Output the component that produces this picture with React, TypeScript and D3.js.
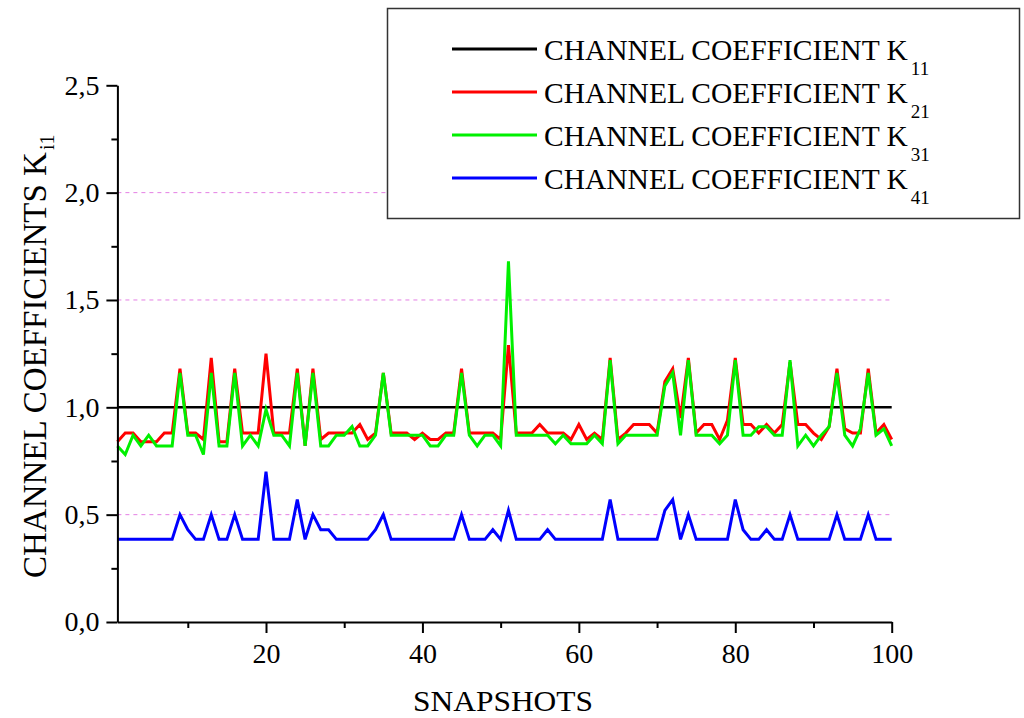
import React, { useEffect, useRef } from 'react';
import * as d3 from 'd3';

// snapshot index 1..100
const snapshots = d3.range(1, 101);

const seriesNames = ['11', '21', '31', '41'];
const seriesColors = ['#000000', '#ff0000', '#00f000', '#0000ff'];

const k11 = [
  1.0, 1.0, 1.0, 1.0, 1.0, 1.0, 1.0, 1.0, 1.0, 1.0,
  1.0, 1.0, 1.0, 1.0, 1.0, 1.0, 1.0, 1.0, 1.0, 1.0,
  1.0, 1.0, 1.0, 1.0, 1.0, 1.0, 1.0, 1.0, 1.0, 1.0,
  1.0, 1.0, 1.0, 1.0, 1.0, 1.0, 1.0, 1.0, 1.0, 1.0,
  1.0, 1.0, 1.0, 1.0, 1.0, 1.0, 1.0, 1.0, 1.0, 1.0,
  1.0, 1.0, 1.0, 1.0, 1.0, 1.0, 1.0, 1.0, 1.0, 1.0,
  1.0, 1.0, 1.0, 1.0, 1.0, 1.0, 1.0, 1.0, 1.0, 1.0,
  1.0, 1.0, 1.0, 1.0, 1.0, 1.0, 1.0, 1.0, 1.0, 1.0,
  1.0, 1.0, 1.0, 1.0, 1.0, 1.0, 1.0, 1.0, 1.0, 1.0,
  1.0, 1.0, 1.0, 1.0, 1.0, 1.0, 1.0, 1.0, 1.0, 1.0,
];

const k21 = [
  0.84, 0.88, 0.88, 0.84, 0.84, 0.84, 0.88, 0.88, 1.18, 0.88,
  0.88, 0.85, 1.23, 0.84, 0.84, 1.18, 0.88, 0.88, 0.88, 1.25,
  0.88, 0.88, 0.88, 1.18, 0.82, 1.18, 0.85, 0.88, 0.88, 0.88,
  0.88, 0.92, 0.85, 0.88, 1.16, 0.88, 0.88, 0.88, 0.85, 0.88,
  0.85, 0.85, 0.88, 0.88, 1.18, 0.88, 0.88, 0.88, 0.88, 0.85,
  1.29, 0.88, 0.88, 0.88, 0.92, 0.88, 0.88, 0.88, 0.85, 0.92,
  0.85, 0.88, 0.85, 1.23, 0.85, 0.88, 0.92, 0.92, 0.92, 0.88,
  1.12, 1.18, 0.95, 1.23, 0.88, 0.92, 0.92, 0.85, 0.94, 1.23,
  0.92, 0.92, 0.88, 0.92, 0.88, 0.92, 1.21, 0.92, 0.92, 0.88,
  0.85, 0.91, 1.18, 0.90, 0.88, 0.88, 1.18, 0.88, 0.92, 0.85,
];

const k31 = [
  0.82, 0.78, 0.87, 0.82, 0.87, 0.82, 0.82, 0.82, 1.16, 0.87,
  0.87, 0.78, 1.16, 0.82, 0.82, 1.16, 0.82, 0.87, 0.82, 0.99,
  0.87, 0.87, 0.82, 1.16, 0.82, 1.16, 0.82, 0.82, 0.87, 0.87,
  0.91, 0.82, 0.82, 0.87, 1.16, 0.87, 0.87, 0.87, 0.87, 0.87,
  0.82, 0.82, 0.87, 0.87, 1.16, 0.87, 0.82, 0.87, 0.87, 0.82,
  1.68, 0.87, 0.87, 0.87, 0.87, 0.87, 0.83, 0.87, 0.83, 0.83,
  0.83, 0.87, 0.83, 1.22, 0.83, 0.87, 0.87, 0.87, 0.87, 0.87,
  1.10, 1.16, 0.87, 1.22, 0.87, 0.87, 0.87, 0.83, 0.87, 1.22,
  0.87, 0.87, 0.91, 0.91, 0.87, 0.87, 1.22, 0.82, 0.87, 0.82,
  0.87, 0.91, 1.16, 0.87, 0.82, 0.90, 1.16, 0.87, 0.90, 0.82,
];

const k41 = [
  0.385, 0.385, 0.385, 0.385, 0.385, 0.385, 0.385, 0.385, 0.50, 0.43,
  0.385, 0.385, 0.50, 0.385, 0.385, 0.50, 0.385, 0.385, 0.385, 0.70,
  0.385, 0.385, 0.385, 0.57, 0.385, 0.50, 0.43, 0.43, 0.385, 0.385,
  0.385, 0.385, 0.385, 0.43, 0.50, 0.385, 0.385, 0.385, 0.385, 0.385,
  0.385, 0.385, 0.385, 0.385, 0.50, 0.385, 0.385, 0.385, 0.43, 0.385,
  0.52, 0.385, 0.385, 0.385, 0.385, 0.43, 0.385, 0.385, 0.385, 0.385,
  0.385, 0.385, 0.385, 0.57, 0.385, 0.385, 0.385, 0.385, 0.385, 0.385,
  0.52, 0.57, 0.385, 0.50, 0.385, 0.385, 0.385, 0.385, 0.385, 0.57,
  0.43, 0.385, 0.385, 0.43, 0.385, 0.385, 0.50, 0.385, 0.385, 0.385,
  0.385, 0.385, 0.50, 0.385, 0.385, 0.385, 0.50, 0.385, 0.385, 0.385,
];

const allSeries = [k11, k21, k31, k41];

const xMajorTicks = [20, 40, 60, 80, 100];
const xMinorTicks = [10, 30, 50, 70, 90];
const yMajorTicks = [0, 0.5, 1.0, 1.5, 2.0, 2.5];
const yMinorTicks = [0.25, 0.75, 1.25, 1.75, 2.25];
const gridValues = [0.5, 1.0, 1.5, 2.0];

const FONT = 'Liberation Serif';

const App: React.FC = () => {
  const svgRef = useRef<SVGSVGElement | null>(null);

  useEffect(() => {
    if (!svgRef.current) return;
    const width = 1024;
    const height = 718;
    const svg = d3.select(svgRef.current)
      .attr('width', width)
      .attr('height', height)
      .attr('font-family', FONT);
    svg.selectAll('*').remove();

    const x = d3.scaleLinear().domain([1, 100]).range([117.4, 891.7]);
    const y = d3.scaleLinear().domain([0, 2.5]).range([622, 85.3]);

    // dashed guide lines
    svg.append('g')
      .selectAll('line')
      .data(gridValues)
      .enter().append('line')
      .attr('x1', x(1)).attr('x2', x(100))
      .attr('y1', d => y(d)).attr('y2', d => y(d))
      .attr('stroke', '#e47fe4')
      .attr('stroke-width', 1)
      .attr('stroke-dasharray', '4,4');

    // series lines, black first so the others sit on top of it
    const line = d3.line<number>()
      .x((_, i) => x(snapshots[i]))
      .y(d => y(d));

    allSeries.forEach((s, i) => {
      svg.append('path')
        .datum(s)
        .attr('d', line)
        .attr('fill', 'none')
        .attr('stroke', seriesColors[i])
        .attr('stroke-width', i === 0 ? 2.6 : 3)
        .attr('stroke-linejoin', 'miter');
    });

    // x axis (major + minor)
    const xAxisG = svg.append('g').attr('transform', `translate(0,${y(0)})`);
    xAxisG.call(
      d3.axisBottom(x).tickValues(xMajorTicks).tickSize(11).tickSizeOuter(0).tickPadding(10)
        .tickFormat(d => String(d))
    );
    xAxisG.append('g').call(
      d3.axisBottom(x).tickValues(xMinorTicks).tickSize(6).tickSizeOuter(0).tickFormat(() => '')
    ).select('.domain').remove();

    // y axis (major + minor)
    const yAxisG = svg.append('g').attr('transform', `translate(${x(1)},0)`);
    yAxisG.call(
      d3.axisLeft(y).tickValues(yMajorTicks).tickSize(11).tickSizeOuter(0).tickPadding(7)
        .tickFormat(d => d3.format('.1f')(d as number).replace('.', ','))
    );
    yAxisG.append('g').call(
      d3.axisLeft(y).tickValues(yMinorTicks).tickSize(6).tickSizeOuter(0).tickFormat(() => '')
    ).select('.domain').remove();

    // d3 axis puts font-family="sans-serif" on its group, override it
    svg.selectAll('g').filter(function () { return (this as Element).hasAttribute('font-family'); })
      .attr('font-family', FONT)
      .attr('font-size', 28);
    svg.selectAll('.domain').attr('stroke', '#000').attr('stroke-width', 2);
    svg.selectAll('.tick line').attr('stroke', '#000').attr('stroke-width', 2);
    svg.selectAll('.tick text')
      .attr('fill', '#000')
      .attr('font-family', FONT)
      .attr('font-size', 28);

    // axis titles
    svg.append('text')
      .attr('x', 413).attr('y', 711)
      .attr('textLength', 180).attr('lengthAdjust', 'spacingAndGlyphs')
      .attr('font-family', FONT).attr('font-size', 29)
      .text('SNAPSHOTS');

    // y title with subscript as a tspan of the same text
    const yTitle = svg.append('text')
      .attr('transform', 'translate(46,578) rotate(-90)')
      .attr('x', 0).attr('y', 0)
      .attr('font-family', FONT).attr('font-size', 33);
    yTitle.append('tspan').text('CHANNEL COEFFICIENTS K');
    yTitle.append('tspan').attr('dx', 2).attr('dy', 8).attr('font-size', 20).text('i1');

    // legend
    const legend = svg.append('g');
    legend.append('rect')
      .attr('x', 387.5).attr('y', 8.5)
      .attr('width', 632).attr('height', 210)
      .attr('fill', '#fff')
      .attr('stroke', '#333')
      .attr('stroke-width', 1.5);

    seriesNames.forEach((name, i) => {
      const ly = 49 + i * 43;
      legend.append('line')
        .attr('x1', 452).attr('x2', 537)
        .attr('y1', ly).attr('y2', ly)
        .attr('stroke', seriesColors[i])
        .attr('stroke-width', 3);
      const t = legend.append('text')
        .attr('x', 544).attr('y', ly + 11)
        .attr('font-family', FONT).attr('font-size', 29.5);
      t.append('tspan').text('CHANNEL COEFFICIENT K');
      t.append('tspan').attr('dx', 3).attr('dy', 15).attr('font-size', 19).text(name);
    });
  }, []);

  return (
    <svg
      ref={svgRef}
      style={{ position: 'absolute', left: 0, top: 0, display: 'block', background: '#fff' }}
    />
  );
};

export default App;
